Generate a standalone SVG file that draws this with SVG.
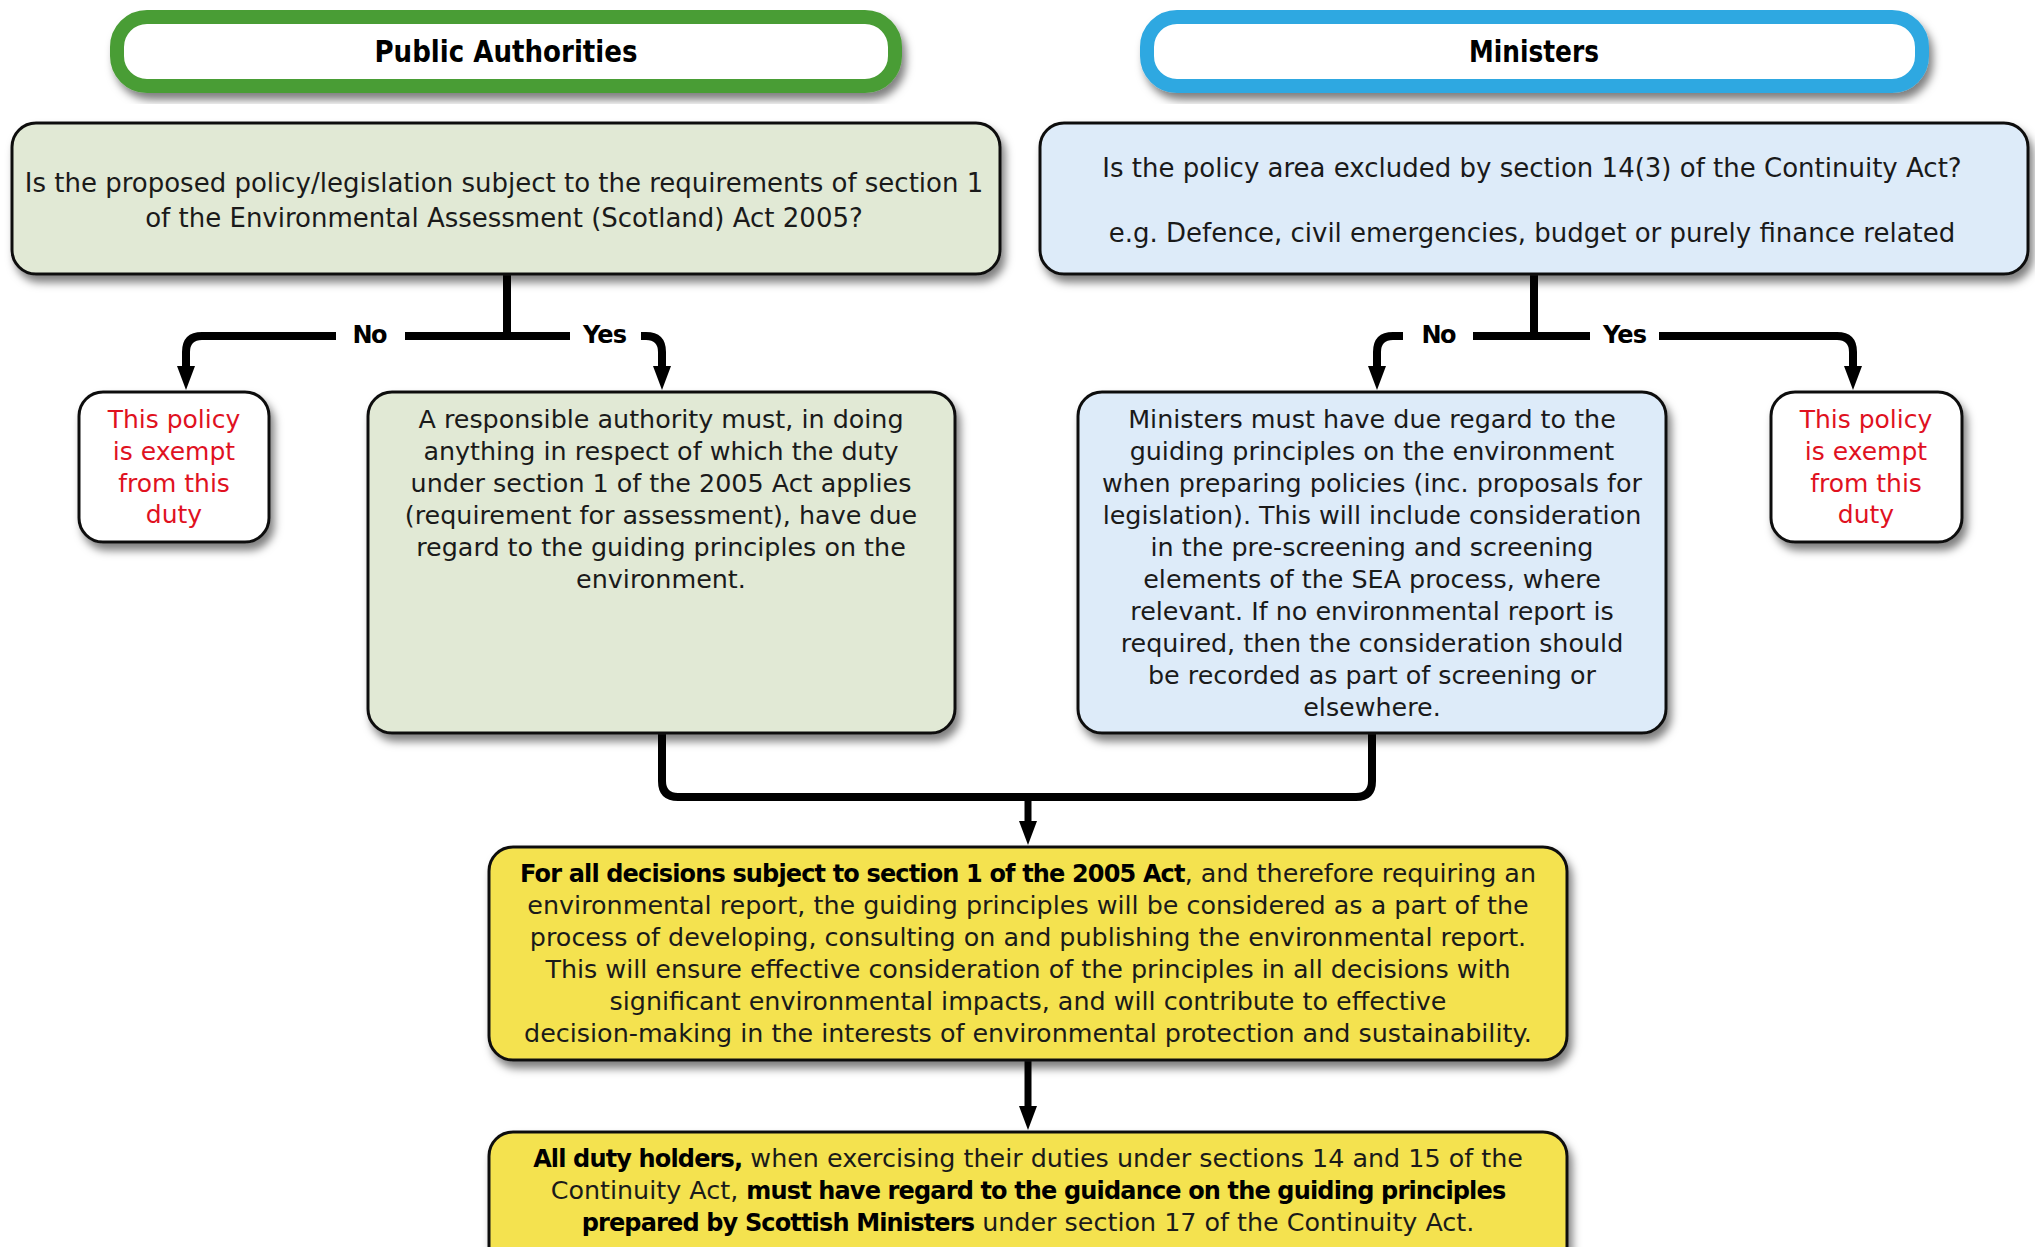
<svg xmlns="http://www.w3.org/2000/svg" width="2035" height="1247" viewBox="0 0 2035 1247">
<defs>
<filter id="sh" x="-10%" y="-10%" width="125%" height="135%">
<feDropShadow dx="4" dy="7" stdDeviation="4" flood-color="#000" flood-opacity="0.5"/>
</filter>
<marker id="ah" markerUnits="userSpaceOnUse" markerWidth="26" markerHeight="20" refX="1" refY="9" orient="auto">
<path d="M0,0 L24,9 L0,18 z" fill="#000"/>
</marker>
</defs>
<style>
text{font-family:"DejaVu Sans","Liberation Sans",sans-serif;fill:#1a1a1a;text-anchor:middle}
.hdr{font-size:31px;font-weight:bold;fill:#000}
.q{font-size:26px}
.b{font-size:25.4px}
.ex{font-size:25px;fill:#e0111f}
.lbl{font-size:24px;font-weight:bold;fill:#000}
.bold{font-weight:bold;fill:#000;font-size:24px;letter-spacing:-0.85px}
.box{stroke:#111;stroke-width:3;filter:url(#sh)}
.green{fill:#e1e9d5}
.blue{fill:#ddebf9}
.white{fill:#fff}
.yellow{fill:#f4e250}
.con{fill:none;stroke:#000;stroke-width:8}
.arr{fill:none;stroke:#000;stroke-width:8;marker-end:url(#ah)}
</style>

<g id="connectors">
<path class="con" d="M507 274 V336"/>
<path class="arr" d="M336 336 H202 Q186 336 186 352 V367"/>
<path class="con" d="M405 336 H570"/>
<path class="arr" d="M641 336 H646 Q662 336 662 352 V367"/>
<path class="con" d="M1534 274 V336"/>
<path class="arr" d="M1403 336 H1393 Q1377 336 1377 352 V367"/>
<path class="con" d="M1473 336 H1590"/>
<path class="arr" d="M1659 336 H1837 Q1853 336 1853 352 V367"/>
<path class="con" d="M662 733 V781 Q662 797 678 797 H1356 Q1372 797 1372 781 V733"/>
<path class="arr" d="M1028 797 V822" style="stroke-width:7"/>
<path class="arr" d="M1028 1060 V1107" style="stroke-width:7"/>
<text class="lbl" x="370" y="343" textLength="35">No</text>
<text class="lbl" x="605" y="343" textLength="44">Yes</text>
<text class="lbl" x="1439" y="343" textLength="35">No</text>
<text class="lbl" x="1625" y="343" textLength="44">Yes</text>
</g>

<g id="hdr-public-authorities">
<rect x="117" y="17" width="778" height="69" rx="30" fill="#fff" stroke="#4a9d36" stroke-width="14" filter="url(#sh)"/>
<text class="hdr" x="506" y="62" textLength="263" lengthAdjust="spacingAndGlyphs">Public Authorities</text>
</g>

<g id="hdr-ministers">
<rect x="1147" y="17" width="775" height="69" rx="30" fill="#fff" stroke="#2ea8e1" stroke-width="14" filter="url(#sh)"/>
<text class="hdr" x="1534" y="62" textLength="130" lengthAdjust="spacingAndGlyphs">Ministers</text>
</g>

<g id="q-public">
<rect class="box green" x="12" y="123" width="988" height="151" rx="24"/>
<text class="q" x="504" y="192">Is the proposed policy/legislation subject to the requirements of section 1</text>
<text class="q" x="504" y="227">of the Environmental Assessment (Scotland) Act 2005?</text>
</g>

<g id="q-ministers">
<rect class="box blue" x="1040" y="123" width="988" height="151" rx="24"/>
<text class="q" x="1532" y="177">Is the policy area excluded by section 14(3) of the Continuity Act?</text>
<text class="q" x="1532" y="242">e.g. Defence, civil emergencies, budget or purely finance related</text>
</g>

<g id="exempt-left">
<rect class="box white" x="79" y="392" width="190" height="150" rx="24"/>
<text class="ex" x="174" y="428">This policy</text>
<text class="ex" x="174" y="460">is exempt</text>
<text class="ex" x="174" y="492">from this</text>
<text class="ex" x="174" y="523">duty</text>
</g>

<g id="body-public">
<rect class="box green" x="368" y="392" width="587" height="341" rx="24"/>
<text class="b" x="661" y="428">A responsible authority must, in doing</text>
<text class="b" x="661" y="460">anything in respect of which the duty</text>
<text class="b" x="661" y="492">under section 1 of the 2005 Act applies</text>
<text class="b" x="661" y="524">(requirement for assessment), have due</text>
<text class="b" x="661" y="556">regard to the guiding principles on the</text>
<text class="b" x="661" y="588">environment.</text>
</g>

<g id="body-ministers">
<rect class="box blue" x="1078" y="392" width="588" height="341" rx="24"/>
<text class="b" x="1372" y="428">Ministers must have due regard to the</text>
<text class="b" x="1372" y="460">guiding principles on the environment</text>
<text class="b" x="1372" y="492">when preparing policies (inc. proposals for</text>
<text class="b" x="1372" y="524">legislation). This will include consideration</text>
<text class="b" x="1372" y="556">in the pre-screening and screening</text>
<text class="b" x="1372" y="588">elements of the SEA process, where</text>
<text class="b" x="1372" y="620">relevant. If no environmental report is</text>
<text class="b" x="1372" y="652">required, then the consideration should</text>
<text class="b" x="1372" y="684">be recorded as part of screening or</text>
<text class="b" x="1372" y="716">elsewhere.</text>
</g>

<g id="exempt-right">
<rect class="box white" x="1771" y="392" width="191" height="150" rx="24"/>
<text class="ex" x="1866" y="428">This policy</text>
<text class="ex" x="1866" y="460">is exempt</text>
<text class="ex" x="1866" y="492">from this</text>
<text class="ex" x="1866" y="523">duty</text>
</g>

<g id="all-decisions">
<rect class="box yellow" x="489" y="847" width="1078" height="213" rx="24"/>
<text class="b" x="1028" y="882"><tspan class="bold">For all decisions subject to section 1 of the 2005 Act</tspan>, and therefore requiring an</text>
<text class="b" x="1028" y="914">environmental report, the guiding principles will be considered as a part of the</text>
<text class="b" x="1028" y="946">process of developing, consulting on and publishing the environmental report.</text>
<text class="b" x="1028" y="978">This will ensure effective consideration of the principles in all decisions with</text>
<text class="b" x="1028" y="1010">significant environmental impacts, and will contribute to effective</text>
<text class="b" x="1028" y="1042">decision-making in the interests of environmental protection and sustainability.</text>
</g>

<g id="all-duty-holders">
<rect class="box yellow" x="489" y="1132" width="1078" height="140" rx="24"/>
<text class="b" x="1028" y="1167"><tspan class="bold">All duty holders,</tspan> when exercising their duties under sections 14 and 15 of the</text>
<text class="b" x="1028" y="1199">Continuity Act, <tspan class="bold">must have regard to the guidance on the guiding principles</tspan></text>
<text class="b" x="1028" y="1231"><tspan class="bold">prepared by Scottish Ministers</tspan> under section 17 of the Continuity Act.</text>
</g>
</svg>
